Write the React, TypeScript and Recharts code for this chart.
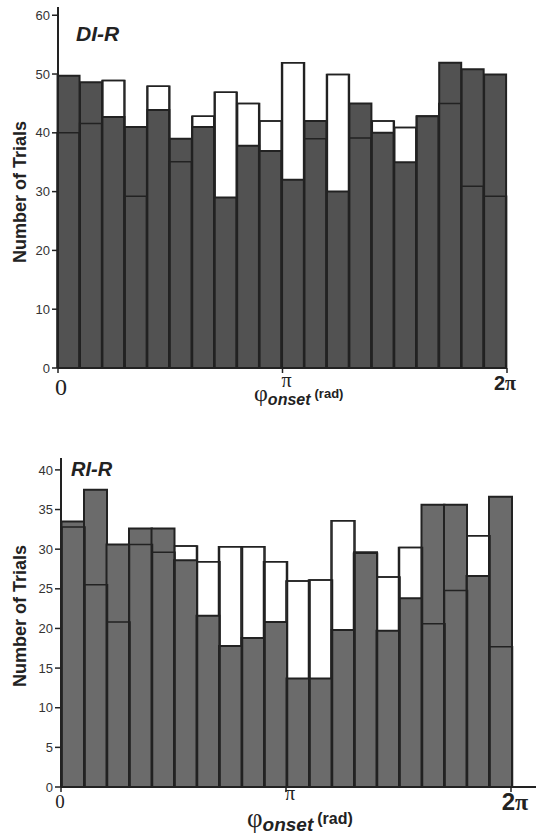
import React from "react";
import { BarChart, Bar, XAxis, YAxis } from "recharts";

// 20 phase bins between 0 and 2π
const BINS = [
  "b01", "b02", "b03", "b04", "b05", "b06", "b07", "b08", "b09", "b10",
  "b11", "b12", "b13", "b14", "b15", "b16", "b17", "b18", "b19", "b20",
];

// DI-R panel
const DIR_FILLED = [49.7, 48.6, 42.7, 41.0, 43.9, 39.0, 41.0, 29.0, 37.8, 36.9, 32.0, 42.0, 30.0, 45.0, 40.0, 35.0, 42.8, 51.9, 50.8, 49.9];
const DIR_OPEN = [40.0, 41.6, 48.9, 29.2, 47.9, 35.1, 42.8, 46.9, 45.0, 42.0, 51.9, 39.0, 49.9, 39.1, 42.0, 40.9, 42.8, 45.0, 30.9, 29.2];
const DIR_TICKS = [0, 10, 20, 30, 40, 50, 60];

// RI-R panel
const RIR_FILLED = [33.5, 37.5, 30.6, 32.6, 32.6, 28.6, 21.6, 17.8, 18.8, 20.8, 13.7, 13.7, 19.8, 29.6, 19.7, 23.8, 35.6, 35.6, 26.6, 36.6];
const RIR_OPEN = [32.8, 25.5, 20.8, 30.6, 29.6, 30.4, 28.4, 30.3, 30.3, 28.4, 26.0, 26.1, 33.6, 29.5, 26.5, 30.2, 20.6, 24.8, 31.7, 17.7];
const RIR_TICKS = [0, 5, 10, 15, 20, 25, 30, 35, 40];

const PHASE_TICKS = [0, Math.PI, 2 * Math.PI];

const INK = "#222";
const SANS = "'Liberation Sans', Arial, sans-serif";
const SERIF = "'Liberation Serif', 'Times New Roman', serif";

function toRows(filled: number[], open: number[]) {
  return BINS.map((bin, i) => ({
    bin,
    filled: filled[i],
    open: open[i],
    openEdge: open[i],
  }));
}

// tick labels 0, π, 2π with the mixed fonts of the original figure
function PhaseTick(props: any) {
  const { x, y, payload, variant } = props;
  const v = payload.value;
  const big = variant === "bottom";
  if (v < 0.1) {
    return (
      <text x={x + (big ? -1 : 3)} y={y + (big ? 14 : 20)} textAnchor="middle" fontFamily={SERIF} fontSize={big ? 19 : 24} fill={INK}>
        0
      </text>
    );
  }
  if (v < 4) {
    return (
      <text x={x + 4} y={y + (big ? 6 : 12)} textAnchor="middle" fontFamily={SERIF} fontSize={20} fill={INK}>
        π
      </text>
    );
  }
  return (
    <text x={x + (big ? 4 : -2)} y={y + (big ? 16 : 15)} textAnchor="middle" fill={INK} fontWeight="bold">
      <tspan fontFamily={SANS} fontSize={big ? 24 : 20}>2</tspan>
      <tspan fontFamily={SERIF} fontSize={big ? 24 : 20}>π</tspan>
    </text>
  );
}

interface PanelProps {
  rows: any[];
  ticks: number[];
  yMax: number;
  fill: string;
  height: number;
  margin: { top: number; right: number; bottom: number; left: number };
  variant: "top" | "bottom";
}

function Panel({ rows, ticks, yMax, fill, height, margin, variant }: PanelProps) {
  return (
    <BarChart
      width={536}
      height={height}
      data={rows}
      margin={margin}
      barCategoryGap={0}
      barGap="-100%"
    >
      <XAxis xAxisId="bins" dataKey="bin" hide height={0} />
      <XAxis
        xAxisId="phase"
        type="number"
        dataKey={() => 0}
        domain={[0, 2 * Math.PI]}
        ticks={PHASE_TICKS}
        allowDataOverflow
        height={30}
        axisLine={{ stroke: INK, strokeWidth: 2 }}
        tickLine={{ stroke: INK, strokeWidth: 1.5 }}
        tickSize={5}
        interval={0}
        tick={<PhaseTick variant={variant} />}
      />
      <YAxis
        domain={[0, yMax]}
        ticks={ticks}
        allowDataOverflow
        width={40}
        axisLine={{ stroke: INK, strokeWidth: 2 }}
        tickLine={{ stroke: INK, strokeWidth: 1.5 }}
        tickSize={6}
        tick={{ fill: "#333", fontSize: 13, fontFamily: SANS }}
      />
      <Bar xAxisId="bins" dataKey="open" fill="#fff" stroke={INK} strokeWidth={1.5} isAnimationActive={false} />
      <Bar xAxisId="bins" dataKey="filled" fill={fill} stroke={INK} strokeWidth={2} isAnimationActive={false} />
      <Bar xAxisId="bins" dataKey="openEdge" fill="none" stroke={INK} strokeWidth={1.5} isAnimationActive={false} />
    </BarChart>
  );
}

const yLabelStyle: React.CSSProperties = {
  position: "absolute",
  transform: "translate(-50%, -50%) rotate(-90deg)",
  whiteSpace: "nowrap",
  font: `bold 18px ${SANS}`,
  color: INK,
};

function PhaseLabel({ left, top, big }: { left: number; top: number; big?: boolean }) {
  return (
    <div style={{ position: "absolute", left, top, whiteSpace: "nowrap", lineHeight: 1, color: INK }}>
      <span style={{ fontFamily: SERIF, fontSize: big ? 27 : 24 }}>φ</span>
      <span style={{ fontFamily: SANS, fontStyle: "italic", fontWeight: "bold", fontSize: big ? 19 : 16, position: "relative", top: 4 }}>
        onset
      </span>
      <span style={{ fontFamily: SANS, fontWeight: "bold", fontSize: big ? 16 : 13, position: "relative", top: -3, marginLeft: 4 }}>
        (rad)
      </span>
    </div>
  );
}

export default function App() {
  const dir = toRows(DIR_FILLED, DIR_OPEN);
  const rir = toRows(RIR_FILLED, RIR_OPEN);
  return (
    <div style={{ position: "absolute", left: 0, top: 0, width: 536, height: 835, background: "#fff", overflow: "hidden" }}>
      <div style={{ position: "absolute", left: 0, top: 0 }}>
        <Panel
          rows={dir}
          ticks={DIR_TICKS}
          yMax={61.4}
          fill="#525252"
          height={400}
          margin={{ top: 7, right: 29, bottom: 2, left: 18 }}
          variant="top"
        />
      </div>
      <div style={{ position: "absolute", left: 0, top: 400 }}>
        <Panel
          rows={rir}
          ticks={RIR_TICKS}
          yMax={41.5}
          fill="#6b6b6b"
          height={435}
          margin={{ top: 58, right: 25, bottom: 18, left: 21 }}
          variant="bottom"
        />
      </div>
      {/* x axis of the lower panel runs on past 2π */}
      <div style={{ position: "absolute", left: 511, top: 786, width: 25, height: 2, background: INK }} />

      <div style={{ position: "absolute", left: 76, top: 23, font: `italic bold 21px ${SANS}`, color: INK, lineHeight: 1 }}>DI-R</div>
      <div style={{ position: "absolute", left: 71, top: 459, font: `italic bold 20px ${SANS}`, color: INK, lineHeight: 1 }}>RI-R</div>

      <div style={{ ...yLabelStyle, left: 20, top: 192 }}>Number of Trials</div>
      <div style={{ ...yLabelStyle, left: 20, top: 616 }}>Number of Trials</div>

      <PhaseLabel left={254} top={381} />
      <PhaseLabel left={247} top={805} big />
    </div>
  );
}
